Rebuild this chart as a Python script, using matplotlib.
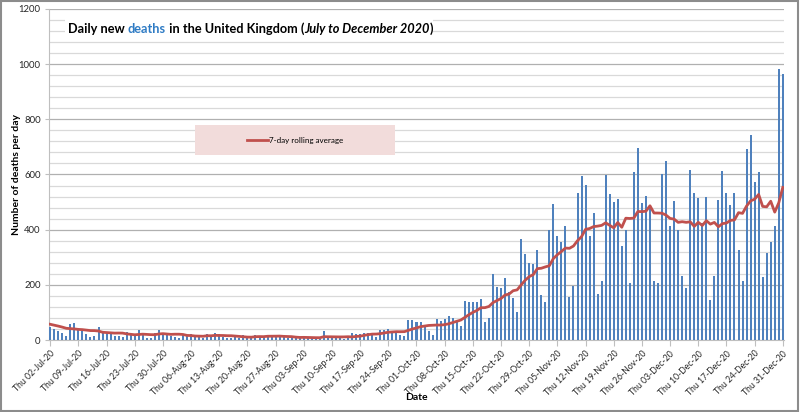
import pandas as pd
import matplotlib
matplotlib.use('Agg')
from matplotlib import pyplot as plt
from matplotlib.patches import Rectangle

plt.rcParams['font.family'] = ['Lato', 'DejaVu Sans']

# daily deaths (reported), 02 Jul - 31 Dec 2020
late_june = [62, 58, 50, 45, 66, 70]  # days before 02 Jul, only feed the rolling average
deaths_jul = [48, 40, 34, 24, 15, 58, 62, 36, 34, 22, 12, 14, 48, 30, 28, 28, 15, 14, 12, 28,
              20, 16, 36, 22, 8, 6, 27, 38, 24, 26]
deaths_aug = [14, 12, 6, 20, 14, 21, 14, 12, 8, 20, 18, 24, 20, 12, 7, 7, 12, 8, 18, 10,
              10, 19, 10, 10, 18, 18, 12, 12, 12, 7, 6]
deaths_sep = [6, 10, 14, 9, 10, 4, 5, 32, 8, 14, 6, 9, 5, 9, 27, 20, 21, 27, 27, 18,
              11, 37, 37, 40, 34, 34, 17, 13, 71, 71]
deaths_oct = [66, 66, 49, 33, 19, 76, 70, 77, 87, 81, 65, 50, 143, 137, 138, 136, 150, 67, 80, 241,
              191, 189, 224, 174, 151, 102, 367, 310, 280, 274, 326]
deaths_nov = [162, 136, 397, 492, 378, 355, 413, 156, 194, 532, 595, 563, 376, 462, 168, 213, 598, 529, 501, 511,
              341, 398, 206, 608, 696, 498, 521, 479, 215, 205]
deaths_dec = [603, 648, 414, 504, 397, 231, 189, 616, 533, 516, 424, 519, 144, 232, 506, 612, 532, 489, 534, 326,
              215, 691, 744, 574, 610, 230, 316, 357, 414, 981, 964]

deaths = deaths_jul + deaths_aug + deaths_sep + deaths_oct + deaths_nov + deaths_dec
dates = pd.date_range('2020-07-02', '2020-12-31', freq='D')
rolling = pd.Series(late_june + deaths).rolling(7).mean().iloc[len(late_june):].to_numpy()

tick_pos = list(range(0, len(dates), 7))
tick_labels = [d.strftime('%a %d-%b-%y') for d in dates[tick_pos]]

grid_c = '#d9d9d9'
axis_c = '#bfbfbf'

fig = plt.figure(figsize=(8, 4.12), dpi=100)
ax = fig.add_axes([49 / 800, 72 / 412, 735 / 800, 331 / 412])

x = list(range(len(deaths)))
ax.bar(x, deaths, width=0.5, color='#4f81bd', zorder=3)
ax.plot(x, rolling, color='#c0504d', lw=2, zorder=4, label='7-day rolling average')

ax.set_xlim(-0.3, len(deaths) - 1 + 0.3)
ax.set_ylim(0, 1200)
ax.set_yticks(range(0, 1201, 200))
ax.set_yticks(range(0, 1201, 40), minor=True)
ax.yaxis.grid(True, which='minor', color=grid_c, lw=0.9, zorder=0)
ax.yaxis.grid(True, which='major', color='#b0b0b0', lw=0.9, zorder=0)
ax.tick_params(axis='y', which='major', labelsize=6.8, length=3, pad=3, color=axis_c, labelcolor='#262626')
ax.tick_params(axis='y', which='minor', length=0)

ax.set_xticks(tick_pos)
ax.set_xticklabels(tick_labels, rotation=45, ha='right', rotation_mode='anchor', fontsize=6.2, color='#262626')
ax.tick_params(axis='x', length=4, pad=2.5, color=axis_c)

for side in ['top', 'right']:
    ax.spines[side].set_visible(False)
ax.spines['left'].set_color(axis_c)
ax.spines['bottom'].set_color(axis_c)

# white box behind the title
ax.add_patch(Rectangle((0.022, 0.915), 0.5, 0.07, transform=ax.transAxes,
                       facecolor='white', edgecolor='none', zorder=5))
pieces = [('Daily new ', 'black', 'normal'), ('deaths', '#2e7bc4', 'normal'),
          (' in the United Kingdom (', 'black', 'normal'), ('July to December 2020', 'black', 'italic'),
          (')', 'black', 'normal')]
prev = ax.text(0.026, 0.922, pieces[0][0], transform=ax.transAxes, fontsize=9.2, fontweight='bold',
               color=pieces[0][1], va='bottom', ha='left', zorder=6)
for txt, col, sty in pieces[1:]:
    prev = ax.annotate(txt, xy=(1, 0), xycoords=prev, fontsize=9.2, fontweight='bold',
                       fontstyle=sty, color=col, va='bottom', ha='left', zorder=6)

# pink legend panel
ax.add_patch(Rectangle((0.199, 0.559), 0.272, 0.0906, transform=ax.transAxes,
                       facecolor='#f2dcdb', edgecolor='none', zorder=5))
leg = ax.legend(loc='center', bbox_to_anchor=(0.335, 0.604), frameon=False, fontsize=5.8,
                handlelength=2.6, handletextpad=0.2)
leg.set_zorder(6)

fig.text(17 / 800, 1 - 174.5 / 412, 'Number of deaths per day', rotation=90, ha='center', va='center',
         fontsize=7.5, fontweight='bold')
fig.text(416 / 800, 1 - 397 / 412, 'Date', ha='center', va='center', fontsize=7.5, fontweight='bold')

fig.add_artist(Rectangle((0.001, 0.003), 0.996, 0.994, transform=fig.transFigure, fill=False,
                         edgecolor='#8c8c8c', lw=1.5))

fig.savefig('out.png', dpi=100)
